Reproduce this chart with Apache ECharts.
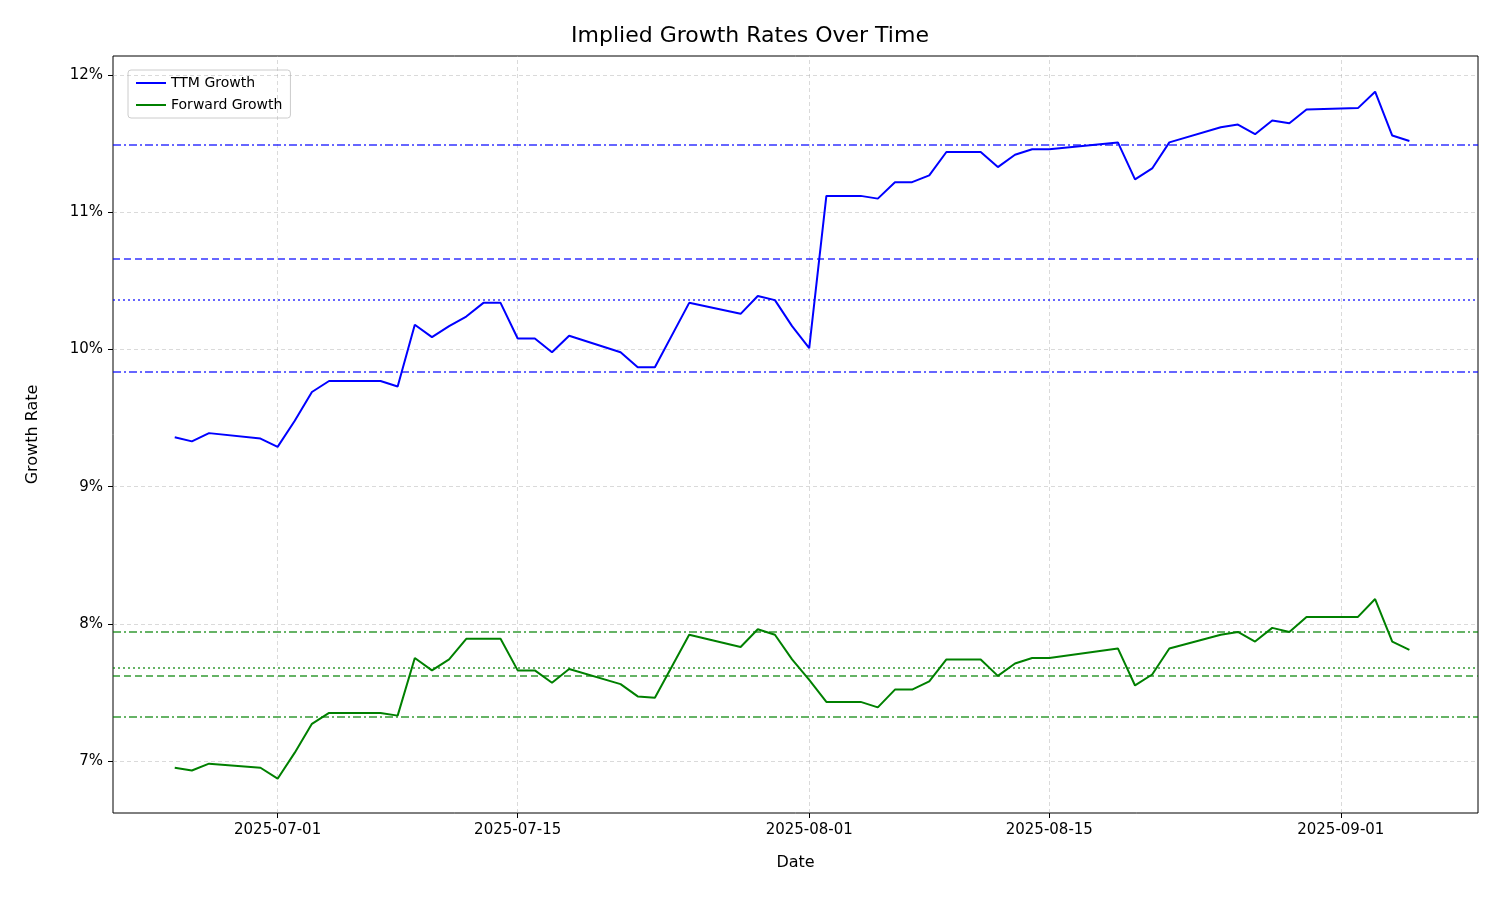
<!DOCTYPE html>
<html lang="en" style="height: 100%">
<head>
  <meta charset="utf-8">
</head>
<body style="height: 100%; margin: 0; background: #fff">
  <div id="container" style="width: 1500px; height: 900px"></div>
  <script type="text/javascript" src="https://fastly.jsdelivr.net/npm/echarts@6.0.0/dist/echarts.min.js"></script>
  <script type="text/javascript">
    var dates = ['2025-06-25', '2025-06-26', '2025-06-27', '2025-06-30', '2025-07-01', '2025-07-02', '2025-07-03', '2025-07-04',
      '2025-07-07', '2025-07-08', '2025-07-09', '2025-07-10', '2025-07-11', '2025-07-12', '2025-07-13', '2025-07-14',
      '2025-07-15', '2025-07-16', '2025-07-17', '2025-07-18', '2025-07-21', '2025-07-22', '2025-07-23', '2025-07-25',
      '2025-07-28', '2025-07-29', '2025-07-30', '2025-07-31', '2025-08-01', '2025-08-02', '2025-08-04', '2025-08-05',
      '2025-08-06', '2025-08-07', '2025-08-08', '2025-08-09', '2025-08-11', '2025-08-12', '2025-08-13', '2025-08-14',
      '2025-08-15', '2025-08-19', '2025-08-20', '2025-08-21', '2025-08-22', '2025-08-25', '2025-08-26', '2025-08-27',
      '2025-08-28', '2025-08-29', '2025-08-30', '2025-09-02', '2025-09-03', '2025-09-04', '2025-09-05'];
    var ttmGrowth = [9.36, 9.33, 9.39, 9.35, 9.29, 9.48, 9.69, 9.77,
      9.77, 9.73, 10.18, 10.09, 10.17, 10.24, 10.34, 10.34,
      10.08, 10.08, 9.98, 10.10, 9.98, 9.87, 9.87, 10.34,
      10.26, 10.39, 10.36, 10.17, 10.01, 11.12, 11.12, 11.10,
      11.22, 11.22, 11.27, 11.44, 11.44, 11.33, 11.42, 11.46,
      11.46, 11.51, 11.24, 11.32, 11.51, 11.62, 11.64, 11.57,
      11.67, 11.65, 11.75, 11.76, 11.88, 11.56, 11.52];
    var fwdGrowth = [6.95, 6.93, 6.98, 6.95, 6.87, 7.06, 7.27, 7.35,
      7.35, 7.33, 7.75, 7.66, 7.74, 7.89, 7.89, 7.89,
      7.66, 7.66, 7.57, 7.67, 7.56, 7.47, 7.46, 7.92,
      7.83, 7.96, 7.92, 7.74, 7.59, 7.43, 7.43, 7.39,
      7.52, 7.52, 7.58, 7.74, 7.74, 7.62, 7.71, 7.75,
      7.75, 7.82, 7.55, 7.63, 7.82, 7.92, 7.94, 7.87,
      7.97, 7.94, 8.05, 8.05, 8.18, 7.87, 7.81];
    // reference levels: [value, line type]
    var ttmLevels = [[11.49, [8, 3, 2, 3]], [10.66, [7, 4]], [10.36, [2, 3]], [9.84, [8, 3, 2, 3]]];
    var fwdLevels = [[7.94, [8, 3, 2, 3]], [7.68, [2, 3]], [7.62, [7, 4]], [7.32, [8, 3, 2, 3]]];
    var xTicks = ['2025-07-01', '2025-07-15', '2025-08-01', '2025-08-15', '2025-09-01'];
    var yTicks = [7, 8, 9, 10, 11, 12];

    function ts(d) { return Date.parse(d + 'T00:00:00Z'); }
    function pad(n) { return n < 10 ? '0' + n : '' + n; }
    function fmtDate(v) {
      var d = new Date(v);
      return d.getUTCFullYear() + '-' + pad(d.getUTCMonth() + 1) + '-' + pad(d.getUTCDate());
    }

    var myChart = echarts.init(document.getElementById('container'), null, { renderer: 'canvas' });
    var font = 'DejaVu Sans';
    var gridLine = { color: '#b0b0b0', type: [4, 3], width: 0.8, opacity: 0.6 };

    function levelLines(levels, color) {
      return levels.map(function (l) {
        return { yAxis: l[0], lineStyle: { color: color, type: l[1], width: 2, opacity: 0.6 } };
      });
    }

    var option = {
      backgroundColor: '#fff',
      animation: false,
      textStyle: { fontFamily: font },
      title: {
        text: 'Implied Growth Rates Over Time', left: 'center', top: 20,
        textStyle: { fontFamily: font, fontSize: 22, fontWeight: 'normal', color: '#000' }
      },
      legend: {
        left: 128, top: 70, orient: 'vertical', itemGap: 8, itemWidth: 30, itemHeight: 2,
        padding: [6, 8], borderColor: '#ccc', borderWidth: 1, borderRadius: 3,
        textStyle: { fontSize: 14, color: '#000' },
        data: [{ name: 'TTM Growth', icon: 'rect' }, { name: 'Forward Growth', icon: 'rect' }]
      },
      grid: { left: 113, right: 22, top: 56, bottom: 87, show: true, borderColor: '#000', borderWidth: 1 },
      xAxis: {
        type: 'value', min: ts('2025-06-21') + 9.6 * 3600000, max: ts('2025-09-09'),
        name: 'Date', nameLocation: 'middle', nameGap: 42,
        nameTextStyle: { fontSize: 16, color: '#000' },
        axisLine: { show: false },
        axisTick: { show: true, customValues: xTicks.map(ts), length: 5, lineStyle: { color: '#000' } },
        axisLabel: { customValues: xTicks.map(ts), formatter: fmtDate, fontSize: 15, color: '#000', margin: 10 },
        splitLine: { show: false }
      },
      yAxis: {
        type: 'value', min: 6.62, max: 12.14,
        name: 'Growth Rate', nameLocation: 'middle', nameGap: 72, nameRotate: 90,
        nameTextStyle: { fontSize: 16, color: '#000' },
        axisLine: { show: false },
        axisTick: { show: true, customValues: yTicks, length: 5, lineStyle: { color: '#000' } },
        axisLabel: { customValues: yTicks, formatter: function (v) { return v + '%'; }, fontSize: 15, color: '#000', margin: 10 },
        splitLine: { show: false }
      },
      series: [
        {
          name: 'grid', type: 'line', data: [], silent: true,
          markLine: {
            symbol: 'none', silent: true, label: { show: false }, lineStyle: gridLine,
            data: xTicks.map(function (d) { return { xAxis: ts(d) }; })
              .concat(yTicks.map(function (v) { return { yAxis: v }; }))
          }
        },
        {
          name: 'TTM Growth', type: 'line', showSymbol: false, color: '#0000ff',
          lineStyle: { width: 2 }, z: 5,
          data: dates.map(function (d, i) { return [ts(d), ttmGrowth[i]]; }),
          markLine: { symbol: 'none', silent: true, label: { show: false }, data: levelLines(ttmLevels, '#0000ff') }
        },
        {
          name: 'Forward Growth', type: 'line', showSymbol: false, color: '#008000',
          lineStyle: { width: 2 }, z: 5,
          data: dates.map(function (d, i) { return [ts(d), fwdGrowth[i]]; }),
          markLine: { symbol: 'none', silent: true, label: { show: false }, data: levelLines(fwdLevels, '#008000') }
        }
      ]
    };

    myChart.setOption(option);
    window.addEventListener('resize', myChart.resize);
  </script>
</body>
</html>
